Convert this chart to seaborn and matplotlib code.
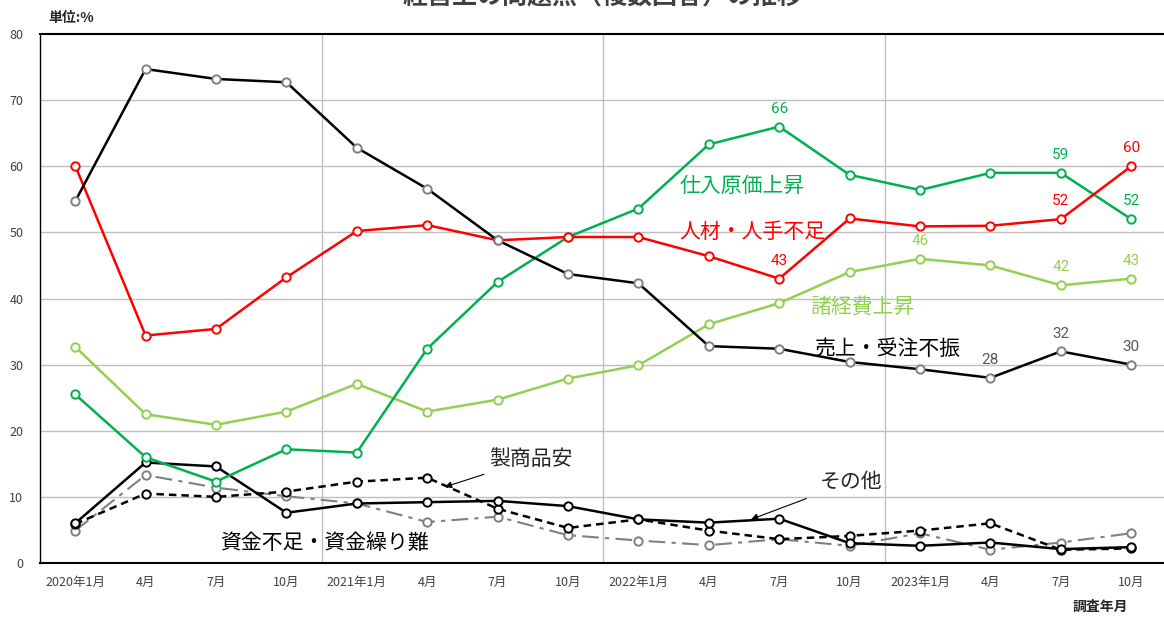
import matplotlib
matplotlib.use("Agg")
import matplotlib.pyplot as plt
import numpy as np
import pandas as pd
import seaborn as sns

# 調査年月
periods = ["2020年1月", "4月", "7月", "10月", "2021年1月", "4月", "7月", "10月",
           "2022年1月", "4月", "7月", "10月", "2023年1月", "4月", "7月", "10月"]

# 経営上の問題点（%）
sales_slump = [54.7, 74.7, 73.2, 72.7, 62.8, 56.6, 48.8, 43.7,
               42.3, 32.8, 32.4, 30.4, 29.3, 28.0, 32.0, 30.0]
labor_shortage = [60.1, 34.4, 35.4, 43.2, 50.2, 51.1, 48.8, 49.3,
                  49.3, 46.4, 43.0, 52.1, 50.9, 51.0, 52.0, 60.0]
purchase_cost = [25.5, 16.0, 12.3, 17.2, 16.7, 32.4, 42.5, 49.3,
                 53.6, 63.3, 66.0, 58.7, 56.4, 59.0, 59.0, 52.0]
overhead_cost = [32.7, 22.5, 20.9, 22.9, 27.1, 22.9, 24.7, 27.9,
                 29.9, 36.1, 39.3, 44.0, 46.0, 45.0, 42.0, 43.0]
low_price = [5.9, 10.5, 10.0, 10.8, 12.3, 12.9, 8.2, 5.3,
             6.6, 4.9, 3.6, 4.1, 4.9, 6.0, 2.0, 2.2]
others = [6.0, 15.2, 14.6, 7.6, 9.0, 9.2, 9.4, 8.6,
          6.6, 6.1, 6.7, 3.0, 2.6, 3.1, 2.1, 2.4]
funding = [4.9, 13.3, 11.4, 10.1, 9.0, 6.2, 7.0, 4.2,
           3.4, 2.7, 3.6, 2.6, 4.5, 2.0, 3.1, 4.5]

JP = ["Noto Sans CJK JP", "DejaVu Sans"]
NUM = ["Roboto", "DejaVu Sans"]

sns.set_theme(style="white")
plt.rcParams["font.family"] = JP

fig = plt.figure(figsize=(11.64, 6.17), dpi=100)
ax = fig.add_axes([40 / 1164, 54 / 617, 1126.4 / 1164, 529 / 617])

x = np.arange(len(periods))
df = pd.DataFrame({
    "x": x,
    "売上・受注不振": sales_slump,
    "人材・人手不足": labor_shortage,
    "仕入原価上昇": purchase_cost,
    "諸経費上昇": overhead_cost,
    "製商品安": low_price,
    "その他": others,
    "資金不足・資金繰り難": funding,
})

styles = {
    "資金不足・資金繰り難": dict(color="#808080", mec="#808080", ls=(0, (8, 3, 2, 3)), lw=1.5),
    "製商品安": dict(color="black", mec="black", ls=(0, (3, 2)), lw=1.8),
    "その他": dict(color="black", mec="black", ls="-", lw=1.8),
    "諸経費上昇": dict(color="#92D050", mec="#92D050", ls="-", lw=1.8),
    "仕入原価上昇": dict(color="#00B050", mec="#00B050", ls="-", lw=1.8),
    "人材・人手不足": dict(color="#FF0000", mec="#FF0000", ls="-", lw=1.8),
    "売上・受注不振": dict(color="black", mec="#808080", ls="-", lw=1.8),
}

for name, st in styles.items():
    sns.lineplot(data=df, x="x", y=name, ax=ax, color=st["color"],
                 linestyle=st["ls"], linewidth=st["lw"], marker="o",
                 markersize=6, markerfacecolor="white",
                 markeredgecolor=st["mec"], markeredgewidth=1.4)

ax.set_xlim(-0.5, 15.5)
ax.set_ylim(0, 80)
ax.set_yticks(range(0, 81, 10))
ax.set_xticks(x)
ax.set_xticklabels(periods)
ax.tick_params(axis="both", length=0, labelsize=9, colors="#404040")
ax.tick_params(axis="x", pad=9)
ax.tick_params(axis="y", pad=12)
ax.set_xlabel("")
ax.set_ylabel("")

ax.set_axisbelow(True)
for v in range(10, 80, 10):
    ax.axhline(v, color="#BFBFBF", lw=1, zorder=0)
for v in [3.5, 7.5, 11.5]:
    ax.axvline(v, color="#BFBFBF", lw=1, zorder=0)

for side in ["left", "top", "bottom"]:
    ax.spines[side].set_visible(True)
    ax.spines[side].set_color("black")
ax.spines["left"].set_linewidth(1.0)
ax.spines["top"].set_linewidth(1.5)
ax.spines["bottom"].set_linewidth(1.5)
ax.spines["right"].set_visible(False)

# 系列名
ax.text(8.58, 57, "仕入原価上昇", color="#00B050", fontsize=15, va="center")
ax.text(8.58, 50, "人材・人手不足", color="#FF0000", fontsize=15, va="center")
ax.text(10.44, 38.7, "諸経費上昇", color="#92D050", fontsize=15, va="center")
ax.text(10.5, 32.4, "売上・受注不振", color="black", fontsize=15, va="center")
ax.text(2.06, 3.0, "資金不足・資金繰り難", color="black", fontsize=15, va="center")
ax.annotate("製商品安", xy=(5.25, 11.5), xytext=(5.88, 15.7), fontsize=15,
            va="center", ha="left",
            arrowprops=dict(arrowstyle="-|>", color="black", lw=0.8,
                            shrinkA=2, shrinkB=0, mutation_scale=10),
            annotation_clip=False)
ax.annotate("その他", xy=(9.6, 6.6), xytext=(10.58, 12.3), fontsize=15,
            va="center", ha="left",
            arrowprops=dict(arrowstyle="-|>", color="black", lw=0.8,
                            shrinkA=8, shrinkB=0, mutation_scale=10),
            annotation_clip=False)

# 数値ラベル
value_labels = [
    (10, purchase_cost, "#00B050"), (10, labor_shortage, "#FF0000"),
    (12, overhead_cost, "#92D050"), (13, sales_slump, "#595959"),
    (14, purchase_cost, "#00B050"), (14, labor_shortage, "#FF0000"),
    (14, sales_slump, "#595959"), (14, overhead_cost, "#92D050"),
    (15, labor_shortage, "#FF0000"), (15, purchase_cost, "#00B050"),
    (15, overhead_cost, "#92D050"), (15, sales_slump, "#595959"),
]
for i, series, c in value_labels:
    ax.text(i, series[i] + 2.7, f"{series[i]:.0f}", color=c, fontsize=11,
            ha="center", va="center", family=NUM)

fig.text(48 / 1164, 1 - 18 / 617, "単位:%", fontsize=10, fontweight="bold",
         ha="left", va="center", color="#262626")
fig.text(1100 / 1164, 1 - 607 / 617, "調査年月", fontsize=10, fontweight="bold",
         ha="center", va="center", color="#262626")
fig.text(603 / 1164, 1 + 3 / 617, "経営上の問題点（複数回答）の推移", fontsize=18,
         fontweight="bold", ha="center", va="center", color="#404040")

fig.savefig("out.png", dpi=100)
